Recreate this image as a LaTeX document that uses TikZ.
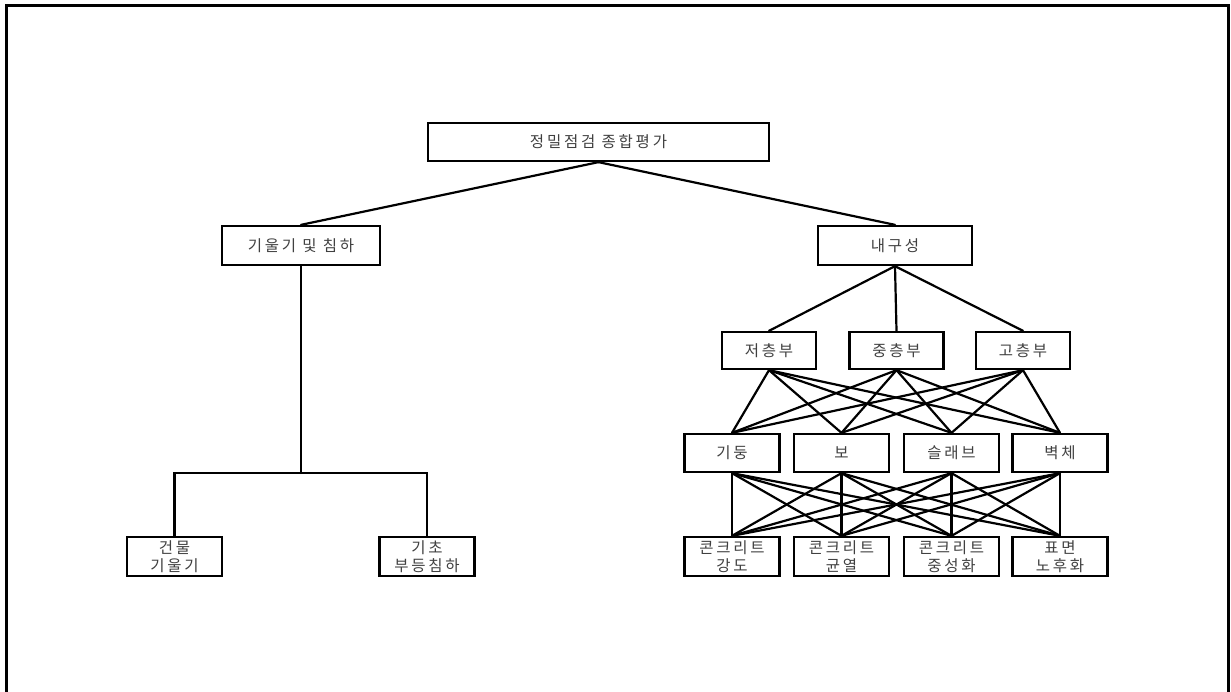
\documentclass[tikz,border=0pt]{standalone}
\usepackage{fontspec}
\setmainfont{Noto Sans CJK KR}[LetterSpace=18]
\begin{document}
\begin{tikzpicture}[x=1pt,y=-1pt,
  box/.style={draw, line width=2.3pt, fill=white, inner sep=0pt, align=center,
    font=\fontsize{15.5}{18.5}\selectfont, text=black!75},
  wire/.style={line width=2.2pt, line cap=round}]
\useasboundingbox (0,0) rectangle (1231,692);
\draw[line width=3pt] (6.5,692) -- (6.5,5.5) -- (1228,5.5) -- (1228,692);

% nodes
\node[box, minimum width=341pt, minimum height=38pt] (top) at (598.5,142) {정밀점검 종합평가};
\node[box, minimum width=158pt, minimum height=39pt] (tilt) at (301,245.5) {기울기 및 침하};
\node[box, minimum width=154pt, minimum height=39pt] (dur) at (895,245.5) {내구성};

\node[box, minimum width=94pt, minimum height=37pt] (low) at (769,350.5) {저층부};
\node[box, minimum width=94pt, minimum height=37pt] (mid) at (896.5,350.5) {중층부};
\node[box, minimum width=94pt, minimum height=37pt] (high) at (1023,350.5) {고층부};

\node[box, minimum width=95pt, minimum height=38pt] (col) at (732,453) {기둥};
\node[box, minimum width=95pt, minimum height=38pt] (beam) at (841.5,453) {보};
\node[box, minimum width=95pt, minimum height=38pt] (slab) at (951.5,453) {슬래브};
\node[box, minimum width=95pt, minimum height=38pt] (wall) at (1060,453) {벽체};

\node[box, minimum width=95pt, minimum height=39pt] (str) at (732,556.5) {콘크리트\\강도};
\node[box, minimum width=95pt, minimum height=39pt] (crk) at (841.5,556.5) {콘크리트\\균열};
\node[box, minimum width=95pt, minimum height=39pt] (neu) at (951.5,556.5) {콘크리트\\중성화};
\node[box, minimum width=95pt, minimum height=39pt] (srf) at (1060,556.5) {표면\\노후화};

\node[box, minimum width=95pt, minimum height=39pt] (bt) at (174.5,556.5) {건물\\기울기};
\node[box, minimum width=95pt, minimum height=39pt] (fs) at (427,556.5) {기초\\부등침하};

% connectors
\draw[wire] (top.south) -- (tilt.north);
\draw[wire] (top.south) -- (dur.north);
\foreach \n in {low,mid,high} \draw[wire] (dur.south) -- (\n.north);
\foreach \a in {low,mid,high}
  \foreach \b in {col,beam,slab,wall}
    \draw[wire] (\a.south) -- (\b.north);
\foreach \a in {col,beam,slab,wall}
  \foreach \b in {str,crk,neu,srf}
    \draw[wire] (\a.south) -- (\b.north);

\coordinate (j) at (301,473);
\draw[wire] (tilt.south) -- (j);
\draw[wire, line cap=butt] (bt.north) |- (j) -| (fs.north);
\end{tikzpicture}
\end{document}
